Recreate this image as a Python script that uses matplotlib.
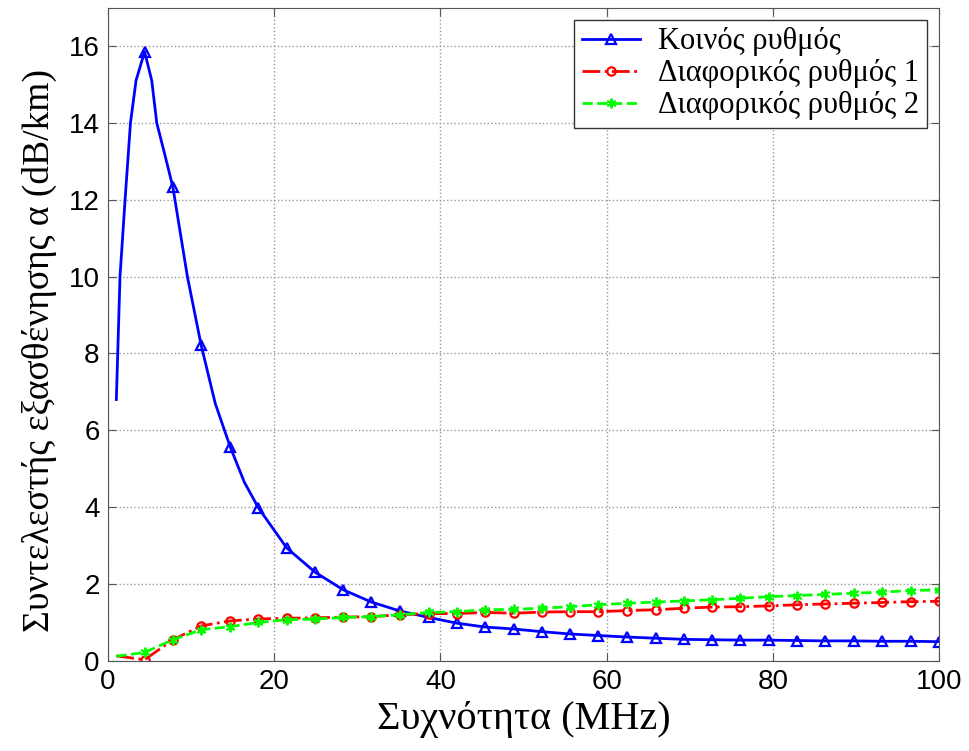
import numpy as np
import matplotlib
matplotlib.use("Agg")
import matplotlib.pyplot as plt

# marker frequencies (MHz), 30 points from 1 to 100
freq = [1.0, 4.4, 7.8, 11.2, 14.7, 18.1, 21.5, 24.9, 28.3, 31.7,
        35.1, 38.6, 42.0, 45.4, 48.8, 52.2, 55.6, 59.0, 62.5, 65.9,
        69.3, 72.7, 76.1, 79.5, 82.9, 86.3, 89.8, 93.2, 96.6, 100.0]

# common mode: denser near the peak so the curve stays round
common_freq = [1.0, 1.44, 2.05, 2.7, 3.37, 4.4, 5.26, 5.86, 6.8, 7.8,
               9.55, 11.2, 12.9, 14.7, 16.4, 18.1, 21.5, 24.9, 28.3, 31.7,
               35.1, 38.6, 42.0, 45.4, 48.8, 52.2, 55.6, 59.0, 62.5, 65.9,
               69.3, 72.7, 76.1, 79.5, 82.9, 86.3, 89.8, 93.2, 96.6, 100.0]
common_alpha = [6.8, 10.0, 12.0, 14.0, 15.1, 15.85, 15.1, 14.0, 13.2, 12.33,
                10.0, 8.22, 6.7, 5.57, 4.65, 3.98, 2.94, 2.31, 1.85, 1.53,
                1.30, 1.13, 0.98, 0.88, 0.83, 0.76, 0.70, 0.66, 0.62, 0.59,
                0.56, 0.55, 0.54, 0.54, 0.53, 0.52, 0.52, 0.51, 0.51, 0.50]

diff1_alpha = [0.13, 0.03, 0.55, 0.91, 1.04, 1.09, 1.11, 1.12, 1.14, 1.15,
               1.20, 1.23, 1.23, 1.26, 1.24, 1.27, 1.28, 1.28, 1.31, 1.33,
               1.37, 1.40, 1.41, 1.43, 1.46, 1.48, 1.50, 1.52, 1.54, 1.55]

diff2_alpha = [0.12, 0.22, 0.55, 0.81, 0.89, 1.00, 1.07, 1.09, 1.13, 1.15,
               1.20, 1.26, 1.28, 1.33, 1.34, 1.37, 1.41, 1.46, 1.50, 1.53,
               1.56, 1.59, 1.63, 1.67, 1.70, 1.73, 1.76, 1.79, 1.83, 1.85]

labels = ["Κοινός ρυθμός", "Διαφορικός ρυθμός 1", "Διαφορικός ρυθμός 2"]

serif = ["Liberation Serif", "DejaVu Serif"]
sans = ["Liberation Sans", "DejaVu Sans"]

fig = plt.figure(figsize=(9.69, 7.51), dpi=100)
ax = fig.add_axes([0.1115, 0.12, 0.8575, 0.87])

# no marker on the first sample (1 MHz)
mk_common = [int(i) for i in np.where(np.isin(common_freq, freq[1:]))[0]]
mk_diff = list(range(1, len(freq)))

ax.plot(common_freq, common_alpha, color="#0000ff", lw=2, ls="-",
        marker="^", markevery=mk_common, ms=7, mfc="none", mew=1.6,
        label=labels[0])
ax.plot(freq, diff1_alpha, color="#ff0000", lw=2, ls="-.",
        marker="o", markevery=mk_diff, ms=6, mfc="none", mew=1.6,
        label=labels[1])
ax.plot(freq, diff2_alpha, color="#00ff00", lw=2, ls="--",
        marker=(6, 2, 0), markevery=mk_diff, ms=7, mew=1.4,
        label=labels[2])

ax.set_xlim(0, 100)
ax.set_ylim(0, 17)
ax.set_xticks(range(0, 101, 20))
ax.set_yticks(range(0, 17, 2))
ax.grid(True, ls=":", color="#999999", lw=1)
ax.tick_params(direction="in", top=True, right=True, length=6,
               labelsize=20, color="#555555", pad=6)
for lab in ax.get_xticklabels() + ax.get_yticklabels():
    lab.set_family(sans)
for s in ax.spines.values():
    s.set_color("#555555")

ax.set_xlabel("Συχνότητα (MHz)", family=serif, fontsize=29, labelpad=4)
ax.set_ylabel("Συντελεστής εξασθένησης α (dB/km)", family=serif,
              fontsize=27)
ax.yaxis.set_label_coords(-0.062, 0.475)

leg = ax.legend(loc="upper right", prop={"family": serif, "size": 22},
                fancybox=False, edgecolor="#333333", framealpha=1,
                borderaxespad=0.4, handlelength=1.9, handletextpad=0.6,
                labelspacing=0.1, borderpad=0.25)
leg.get_frame().set_linewidth(1)

fig.savefig("out.png", dpi=100)
